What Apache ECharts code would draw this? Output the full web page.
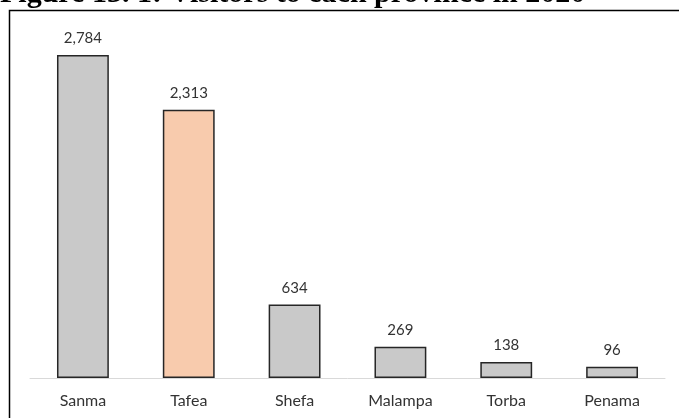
<!DOCTYPE html>
<html>
<head>
<meta charset="utf-8">
<script src="https://cdn.jsdelivr.net/npm/echarts@6/dist/echarts.min.js"></script>
<style>
html,body{margin:0;padding:0;background:#fff;}
#main{width:679px;height:418px;}
</style>
</head>
<body>
<div id="main"></div>
<script>
const titleText = 'Figure 13. 1: Visitors to each province in 2020';
const categories = ['Sanma', 'Tafea', 'Shefa', 'Malampa', 'Torba', 'Penama'];
const visitors = [2784, 2313, 634, 269, 138, 96];
const highlightCategory = 'Tafea';

const chart = echarts.init(document.getElementById('main'), null, {renderer: 'canvas'});
const fontFam = 'Lato, "Open Sans", sans-serif';

chart.setOption({
  animation: false,
  backgroundColor: '#ffffff',
  graphic: [
    {
      type: 'rect',
      shape: {x: 9.5, y: 10.5, width: 720, height: 440},
      style: {fill: 'none', stroke: '#000000', lineWidth: 1.5},
      silent: true
    },
    {
      type: 'text',
      x: 0,
      y: -6,
      style: {
        text: titleText,
        font: 'bold 30px "Liberation Serif", "Times New Roman", serif',
        fill: '#000000',
        align: 'left',
        verticalAlign: 'middle'
      },
      silent: true
    }
  ],
  grid: {left: 30, right: 14, top: 30, bottom: 40, containLabel: false},
  xAxis: {
    type: 'category',
    data: categories,
    axisLine: {show: true, lineStyle: {color: '#d9d9d9', width: 1}},
    axisTick: {show: false},
    axisLabel: {color: '#333333', fontSize: 16, fontFamily: fontFam, margin: 15}
  },
  yAxis: {
    type: 'value',
    min: 0,
    max: 3000,
    show: false,
    splitLine: {show: false}
  },
  series: [{
    type: 'bar',
    data: visitors.map((v, i) => ({
      value: v,
      itemStyle: {color: categories[i] === highlightCategory ? '#f8cbad' : '#c9c9c9'}
    })),
    barWidth: '49%',
    itemStyle: {borderColor: '#262626', borderWidth: 1.5},
    label: {
      show: true,
      position: 'top',
      distance: 9,
      color: '#333333',
      fontSize: 15,
      fontFamily: fontFam,
      formatter: p => p.value.toLocaleString('en-US')
    }
  }]
});
</script>
</body>
</html>
